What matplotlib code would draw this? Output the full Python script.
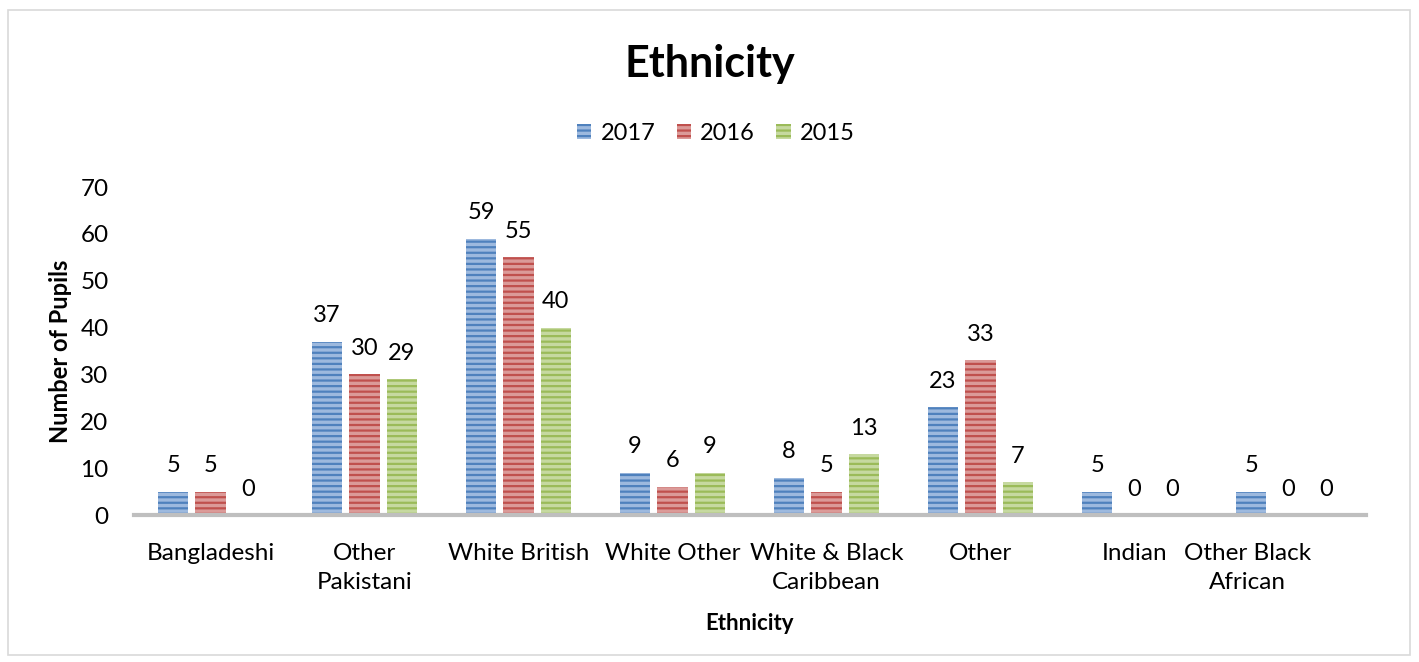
import matplotlib
matplotlib.use("Agg")
import matplotlib.pyplot as plt
import matplotlib.transforms as mtransforms
import numpy as np
from matplotlib.patches import Rectangle

categories = ["Bangladeshi", "Other\nPakistani", "White British", "White Other",
              "White & Black\nCaribbean", "Other", "Indian", "Other Black\nAfrican"]
series_names = ["2017", "2016", "2015"]
v2017 = [5, 37, 59, 9, 8, 23, 5, 5]
v2016 = [5, 30, 55, 6, 5, 33, 0, 0]
v2015 = [0, 29, 40, 9, 13, 7, 0, 0]
yticks = [0, 10, 20, 30, 40, 50, 60, 70]

plt.rcParams['font.family'] = ['Lato', 'DejaVu Sans']
plt.rcParams['hatch.linewidth'] = 1.6

fig = plt.figure(figsize=(14.19, 6.62), dpi=100)
fig.patches.append(Rectangle((8/1419, 7/662), 1402/1419, 645/662, transform=fig.transFigure,
                             fill=False, edgecolor='#D9D9D9', linewidth=1.2))
ax = fig.add_axes([133.5/1419, 147/662, 1232/1419, 328/662])

faces = ['#9DB9DE', '#DB9A98', '#C6D9A0']
stripes = ['#4F81BD', '#C0504D', '#9BBB59']
data = [v2017, v2016, v2015]
x = np.arange(len(categories))
width = 0.20
step = 0.243
for i, (vals, name) in enumerate(zip(data, series_names)):
    pos = x + (i - 1) * step
    ax.bar(pos, vals, width, color=faces[i], edgecolor=stripes[i], hatch='---',
           linewidth=0, label=name, zorder=2)
    for p, v in zip(pos, vals):
        ax.annotate(str(v), (p, v), xytext=(0, 14), textcoords='offset points',
                    ha='center', va='baseline', fontsize=17, color='#000000')

ax.set_xlim(-0.5, len(categories) - 0.5)
ax.set_ylim(0, 70)
ax.set_yticks(yticks)
ax.set_xticks(x)
ax.set_xticklabels(categories, fontsize=17.5, linespacing=1.5)
ax.tick_params(axis='y', labelsize=17.5, length=0, pad=18)
ax.tick_params(axis='x', length=0, pad=20)
for s in ['top', 'right', 'left']:
    ax.spines[s].set_visible(False)
ax.spines['bottom'].set_color('#BFBFBF')
ax.spines['bottom'].set_linewidth(3)
ax.spines['bottom'].set_zorder(3)

# last label is shifted left in the reference
lbls = ax.get_xticklabels()
lbls[-1].set_transform(lbls[-1].get_transform() +
                       mtransforms.ScaledTranslation(-41/100, 0, fig.dpi_scale_trans))

ax.set_ylabel("Number of Pupils", fontsize=17, fontweight='bold', labelpad=6)
ax.set_xlabel("Ethnicity", fontsize=16, fontweight='bold', labelpad=14)

fig.text(0.5, 1 - 64/662, "Ethnicity", ha='center', va='center', fontsize=31, fontweight='bold')
fig.legend(loc='center', bbox_to_anchor=(716/1419, 1 - 133/662), ncol=3, frameon=False,
           fontsize=17, handlelength=0.6, handleheight=0.6, handletextpad=0.4, columnspacing=0.9)

fig.savefig("out.png", dpi=100)
